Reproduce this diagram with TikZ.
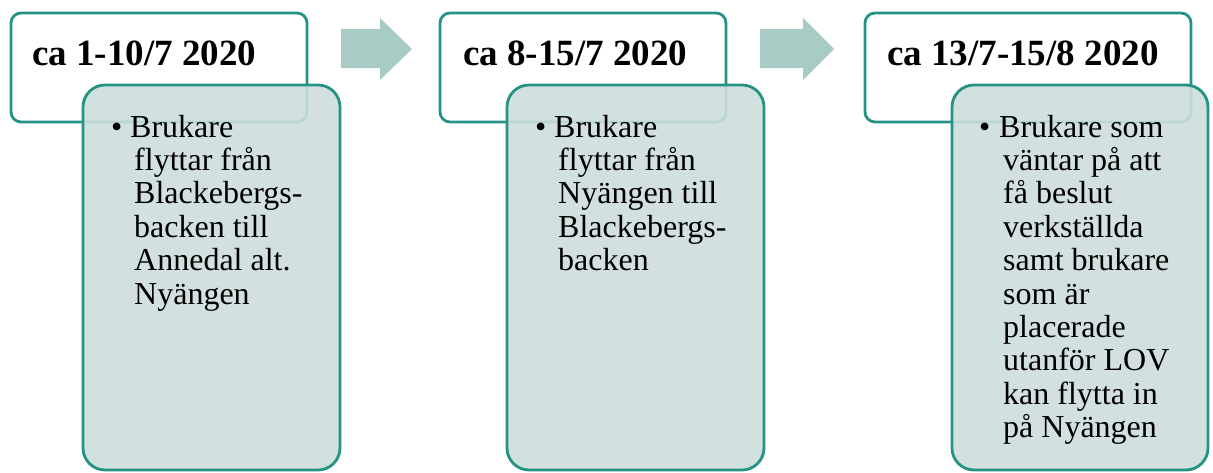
\documentclass[tikz,border=0pt]{standalone}
\usepackage{fontspec}
\setmainfont{Liberation Serif}
\definecolor{tealline}{RGB}{36,146,132}
\definecolor{panelfill}{RGB}{205,222,221}
\definecolor{arrowfill}{RGB}{168,204,197}
\tikzset{
  header/.style={draw=tealline, line width=2.8pt, fill=white, rounded corners=10pt,
    inner sep=0pt, minimum height=109pt},
  panel/.style={draw=tealline, line width=2.8pt, fill=panelfill, fill opacity=0.9,
    rounded corners=22pt, inner sep=0pt, minimum width=257pt, minimum height=385pt},
  headtext/.style={anchor=base west, inner sep=0pt, font=\fontsize{37}{40}\selectfont\bfseries},
  bodytext/.style={anchor=base west, inner sep=0pt, font=\fontsize{32}{33.4}\selectfont},
  bulletmark/.style={anchor=base west, inner sep=0pt, font=\fontsize{32}{33.4}\selectfont},
  flowarrow/.style={fill=arrowfill, draw=none}
}
\newcommand{\bodylines}[1]{\parbox[t]{240pt}{\raggedright\fontsize{32}{33.4}\selectfont #1}}
\begin{document}
\begin{tikzpicture}[x=1pt,y=-1pt]
\useasboundingbox (0,0) rectangle (1213,472);
% headers
\node[header, minimum width=296pt] (h1) at (159,67.5) {};
\node[header, minimum width=286pt] (h2) at (583,67.5) {};
\node[header, minimum width=326pt] (h3) at (1028,67.5) {};
\node[headtext] (t1) at (32,65) {ca 1-10/7 2020};
\node[headtext] (t2) at (463,65) {ca 8-15/7 2020};
\node[headtext] (t3) at (887,65) {ca 13/7-15/8 2020};
% panels
\node[panel] (p1) at (211.5,277.5) {};
\node[panel] (p2) at (635.5,277.5) {};
\node[panel, minimum width=256pt] (p3) at (1080,277.5) {};
% bullets
\node[bulletmark] (b1) at (111,137) {•};
\node[bulletmark] (b2) at (535,137) {•};
\node[bulletmark] (b3) at (979,137) {•};
% body text
\node[bodytext] (x1) at (134,137) {\bodylines{\hspace*{-4pt}Brukare\\ flyttar från\\ Blackebergs-\\ backen till\\ Annedal alt.\\ Nyängen}};
\node[bodytext] (x2) at (558,137) {\bodylines{\hspace*{-4pt}Brukare\\ flyttar från\\ Nyängen till\\ Blackebergs-\\ backen}};
\node[bodytext] (x3) at (1003,137) {\bodylines{\hspace*{-4pt}Brukare som\\ väntar på att\\ få beslut\\ verkställda\\ samt brukare\\ som är\\ placerade\\ utanför LOV\\ kan flytta in\\ på Nyängen}};
% arrows
\fill[flowarrow] (341,29) -- (380,29) -- (380,18) -- (412,49) -- (380,80) -- (380,68) -- (341,68) -- cycle;
\fill[flowarrow] (760,29) -- (803,29) -- (803,18) -- (834,49) -- (803,80) -- (803,68) -- (760,68) -- cycle;
\end{tikzpicture}
\end{document}
